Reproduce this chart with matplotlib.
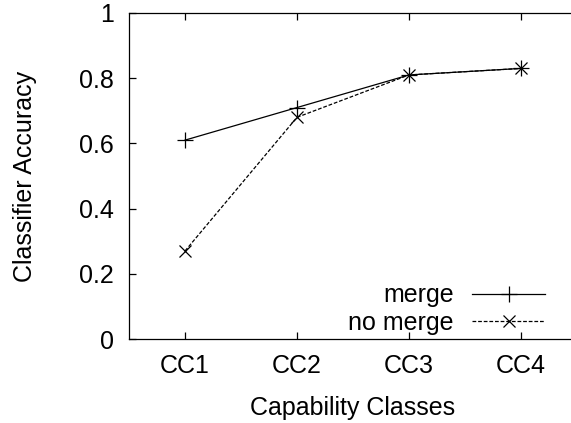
import matplotlib
matplotlib.use("Agg")
import matplotlib.pyplot as plt

categories = ["CC1", "CC2", "CC3", "CC4"]
merge = [0.61, 0.71, 0.81, 0.83]
no_merge = [0.27, 0.68, 0.81, 0.83]
yticks = [0, 0.2, 0.4, 0.6, 0.8, 1]
ytick_labels = ["0", "0.2", "0.4", "0.6", "0.8", "1"]

plt.rcParams['font.family'] = ['Liberation Sans', 'DejaVu Sans']
FS = 18
fig = plt.figure(figsize=(5.71, 4.23), dpi=100)
W, H = 571, 423
ax = fig.add_axes([129 / W, (H - 339) / H, 448 / W, 326 / H])

x = list(range(1, len(categories) + 1))
ax.plot(x, merge, color='black', lw=0.9, marker='+', ms=11, mew=0.9, label='merge')
ax.plot(x, no_merge, color='black', lw=0.9, ls=(0, (3, 1.5)), marker='x', ms=9, mew=0.9,
        label='no merge')

ax.set_xlim(0.5, 4.5)
ax.set_ylim(0, 1)
ax.set_xticks(x)
ax.set_xticklabels(categories)
ax.set_yticks(yticks)
ax.set_yticklabels(ytick_labels)
ax.tick_params(direction='in', length=5, width=0.9, labelsize=FS, top=True, right=False,
               color='black')
ax.tick_params(axis='y', pad=11)
ax.tick_params(axis='x', pad=10.5)
for s in ax.spines.values():
    s.set_linewidth(0.9)
ax.set_xlabel("Capability Classes", fontsize=FS, labelpad=13)
ax.set_ylabel("Classifier Accuracy", fontsize=FS, labelpad=30)

ax.legend(loc='lower right', bbox_to_anchor=(545 / W, (H - 335) / H), bbox_transform=fig.transFigure,
          frameon=False, markerfirst=False, fontsize=FS, handlelength=2.92, handletextpad=0.72,
          labelspacing=0.15, borderpad=0, borderaxespad=0)

fig.savefig("out.png", dpi=100)
